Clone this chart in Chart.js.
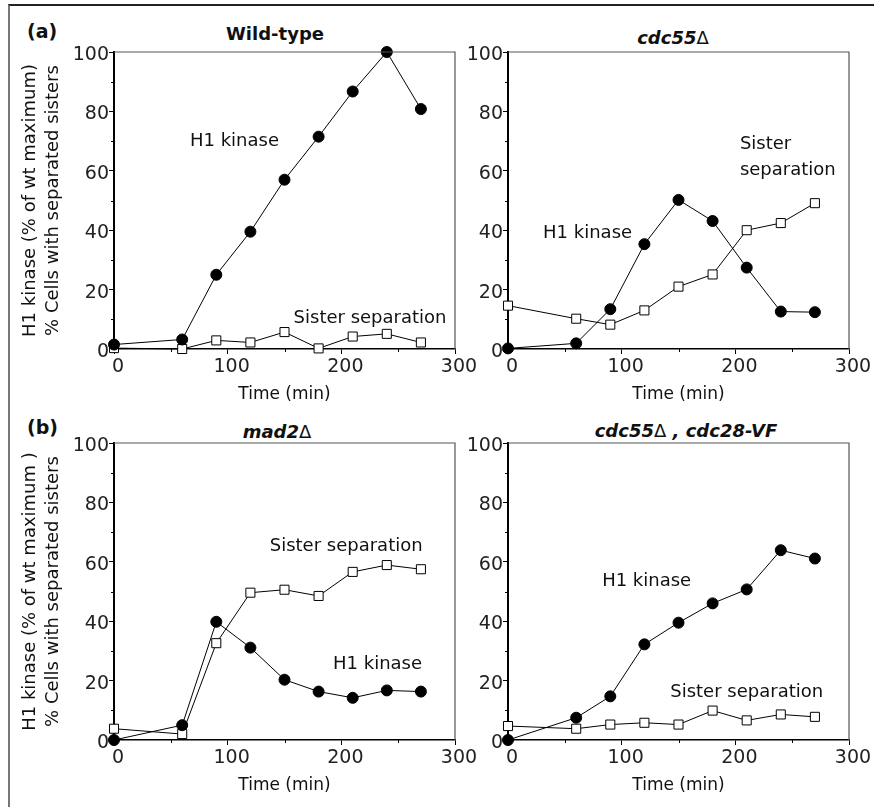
<!DOCTYPE html>
<html>
<head>
<meta charset="utf-8">
<script src="https://cdn.jsdelivr.net/npm/chart.js@4/dist/chart.umd.min.js"></script>
<style>
    html, body { margin: 0; padding: 0; background: #fff; overflow: hidden; }
    body { width: 874px; height: 807px; position: relative; font-family: "DejaVu Sans", sans-serif; color: #111; }
    .frame { position: absolute; left: 8px; top: 4px; width: 870px; height: 810px; border-top: 2px solid #222; border-left: 2px solid #777; }
    canvas { position: absolute; }
    .panel-tag { position: absolute; font-weight: bold; font-size: 19px; }
    .title { position: absolute; font-weight: bold; font-size: 18px; transform: translate(-50%, -50%); white-space: nowrap; }
    .title.it { font-style: italic; }
    .title .d { font-style: normal; font-weight: normal; }
</style>
</head>
<body>
<div class="frame"></div>
<div class="panel-tag" style="left:27px; top:20px;">(a)</div>
<div class="panel-tag" style="left:27px; top:416px;">(b)</div>
<div class="title" style="left:275px; top:33px;">Wild-type</div>
<div class="title it" style="left:673px; top:37px;">cdc55<span class="d">Δ</span></div>
<div class="title it" style="left:277px; top:431px;">mad2<span class="d">Δ</span></div>
<div class="title it" style="left:686px; top:430px;">cdc55<span class="d">Δ</span> , cdc28-VF</div>

<canvas id="wtChart" width="480" height="420" style="left:0px; top:0px;"></canvas>
<canvas id="cdcChart" width="480" height="420" style="left:394px; top:0px;"></canvas>
<canvas id="madChart" width="480" height="420" style="left:0px; top:391px;"></canvas>
<canvas id="vfChart" width="480" height="420" style="left:394px; top:391px;"></canvas>

<script>
// sampling times (min)
const times = [0, 60, 90, 120, 150, 180, 210, 240, 270];

// Wild-type
const wtKinase = [1.5, 3.2, 25, 39.5, 57, 71.5, 86.7, 100, 80.8];
const wtSister = [0.3, 0, 2.9, 2.2, 5.7, 0.2, 4.2, 5.1, 2.2];

// cdc55 delta
const cdcKinase = [0.2, 1.9, 13.4, 35.3, 50.2, 43.1, 27.4, 12.6, 12.4];
const cdcSister = [14.6, 10.2, 8.2, 13.0, 21.0, 25.1, 40.0, 42.4, 49.1];

// mad2 delta
const madKinase = [0, 5.0, 39.8, 31.1, 20.3, 16.3, 14.2, 16.7, 16.3];
const madSister = [3.8, 2.0, 32.6, 49.6, 50.6, 48.5, 56.6, 58.9, 57.5];

// cdc55 delta, cdc28-VF
const vfKinase = [0, 7.5, 14.7, 32.2, 39.5, 46.0, 50.7, 63.9, 61.1];
const vfSister = [4.7, 3.8, 5.2, 5.8, 5.2, 9.9, 6.6, 8.6, 7.8];

const xTicks = [0, 100, 200, 300];
const xMinor = [50, 150, 250];
const yTicks = [0, 20, 40, 60, 80, 100];
const yMinor = [10, 30, 50, 70, 90];

const FONT = "'DejaVu Sans', sans-serif";

function pts(values) {
    return values.map((v, i) => ({ x: times[i], y: v }));
}

// frame, minor ticks and in-plot labels
const extrasPlugin = {
    id: "extras",
    afterDraw(chart) {
        const ctx = chart.ctx;
        const a = chart.chartArea;
        const xs = chart.scales.x, ys = chart.scales.y;
        ctx.save();
        ctx.strokeStyle = "#555";
        ctx.lineWidth = 1.2;
        ctx.beginPath();
        ctx.moveTo(a.left, a.top);
        ctx.lineTo(a.right, a.top);
        ctx.lineTo(a.right, a.bottom);
        ctx.stroke();

        ctx.strokeStyle = "#000";
        ctx.lineWidth = 1;
        ctx.beginPath();
        xMinor.forEach(v => {
            const px = Math.round(xs.getPixelForValue(v)) + 0.5;
            ctx.moveTo(px, a.bottom);
            ctx.lineTo(px, a.bottom + 3);
        });
        yMinor.forEach(v => {
            const py = Math.round(ys.getPixelForValue(v)) + 0.5;
            ctx.moveTo(a.left - 3, py);
            ctx.lineTo(a.left, py);
        });
        ctx.stroke();

        const notes = chart.options.plugins.extras.notes || [];
        ctx.fillStyle = "#111";
        ctx.font = "18px " + FONT;
        ctx.textBaseline = "middle";
        notes.forEach(n => {
            ctx.textAlign = n.align;
            ctx.fillText(n.text, xs.getPixelForValue(n.x), ys.getPixelForValue(n.y));
        });
        ctx.restore();
    }
};

function makePanel(id, kinase, sister, yTitle, notes) {
    return new Chart(document.getElementById(id).getContext("2d"), {
        type: "line",
        data: {
            datasets: [{
                label: "H1 kinase",
                data: pts(kinase),
                borderColor: "#000",
                borderWidth: 1,
                backgroundColor: "#000",
                pointStyle: "circle",
                pointRadius: 5.5,
                pointBorderWidth: 1,
                pointBackgroundColor: "#000",
                pointBorderColor: "#000",
                clip: false
            }, {
                label: "Sister separation",
                data: pts(sister),
                borderColor: "#000",
                borderWidth: 1,
                backgroundColor: "#fff",
                pointStyle: "rect",
                pointRadius: 6.4,
                pointBorderWidth: 1,
                pointBackgroundColor: "#fff",
                pointBorderColor: "#000",
                clip: false
            }]
        },
        options: {
            responsive: false,
            animation: false,
            devicePixelRatio: 1,
            layout: { padding: { left: 18.5, top: 52, right: 25, bottom: 11 } },
            plugins: {
                legend: { display: false },
                tooltip: { enabled: false },
                extras: { notes: notes }
            },
            scales: {
                x: {
                    type: "linear",
                    min: 0,
                    max: 300,
                    afterFit: s => { s.height = 60; },
                    afterBuildTicks: s => { s.ticks = xTicks.map(v => ({ value: v })); },
                    grid: { drawOnChartArea: false, drawTicks: true, tickLength: 5, tickColor: "#000", tickWidth: 1 },
                    border: { display: true, color: "#000", width: 1.5 },
                    ticks: { font: { family: FONT, size: 19 }, color: "#222", padding: 2, labelOffset: 4, maxRotation: 0 },
                    title: { display: true, text: "Time (min)", color: "#111", font: { family: FONT, size: 17, lineHeight: 1.2 }, padding: { top: 0, bottom: 4 } }
                },
                y: {
                    type: "linear",
                    min: 0,
                    max: 100,
                    afterFit: s => { s.width = 95.5; },
                    afterBuildTicks: s => { s.ticks = yTicks.map(v => ({ value: v })); },
                    grid: { drawOnChartArea: false, drawTicks: true, tickLength: 5, tickColor: "#000", tickWidth: 1 },
                    border: { display: true, color: "#000", width: 2 },
                    ticks: { font: { family: FONT, size: 19 }, color: "#222", padding: 0, labelOffset: 3 },
                    title: { display: !!yTitle, text: yTitle || "", color: "#111", font: { family: FONT, size: 18, lineHeight: 23 / 18 }, padding: { top: 0, bottom: 0 } }
                }
            }
        },
        plugins: [extrasPlugin]
    });
}

makePanel("wtChart", wtKinase, wtSister,
    ["H1 kinase (% of wt maximum)", "% Cells with separated sisters"],
    [{ text: "H1 kinase", x: 106, y: 70, align: "center" },
     { text: "Sister separation", x: 158, y: 10.3, align: "left" }]);

makePanel("cdcChart", cdcKinase, cdcSister, null,
    [{ text: "H1 kinase", x: 70, y: 39, align: "center" },
     { text: "Sister", x: 204, y: 68.8, align: "left" },
     { text: "separation", x: 204, y: 60.3, align: "left" }]);

makePanel("madChart", madKinase, madSister,
    ["H1 kinase (% of wt maximum )", "% Cells with separated sisters"],
    [{ text: "Sister separation", x: 271.5, y: 65.2, align: "right" },
     { text: "H1 kinase", x: 271, y: 25.4, align: "right" }]);

makePanel("vfChart", vfKinase, vfSister, null,
    [{ text: "H1 kinase", x: 122, y: 53.3, align: "center" },
     { text: "Sister separation", x: 210, y: 15.9, align: "center" }]);
</script>
</body>
</html>
